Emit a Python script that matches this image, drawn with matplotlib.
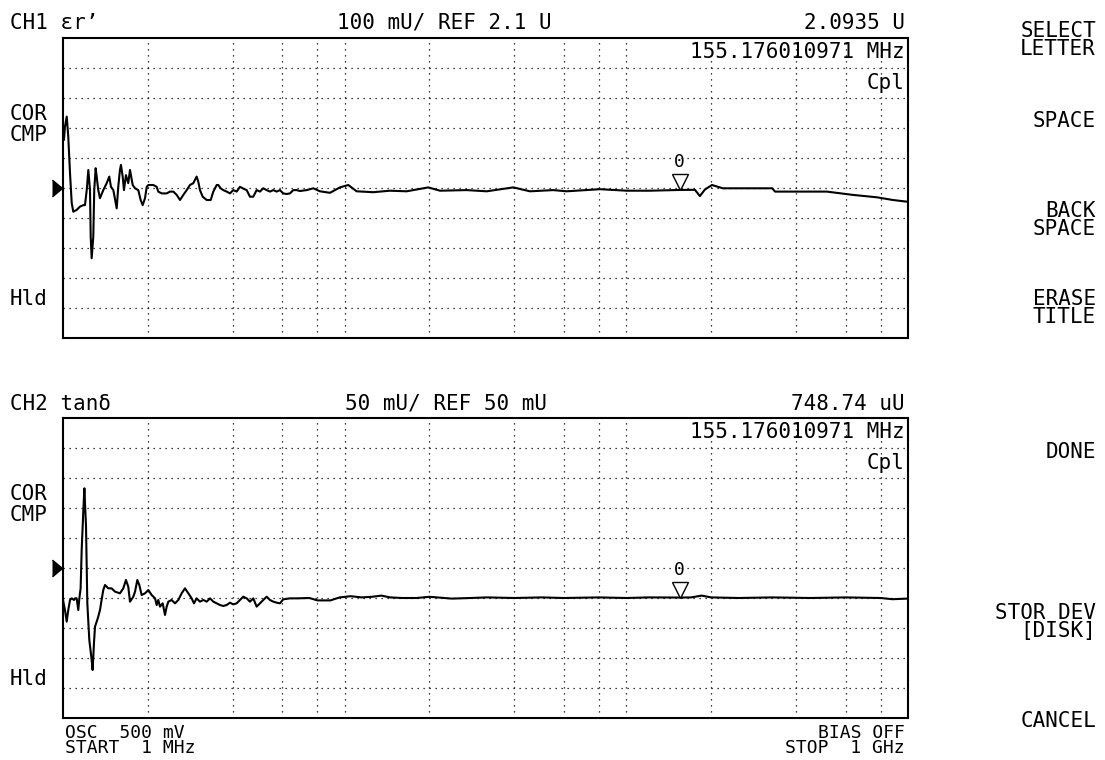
import matplotlib.pyplot as plt
from matplotlib import transforms
from matplotlib.ticker import NullLocator

# sweep 1 MHz .. 1 GHz, log
ch1_freq = [1.0, 1.008, 1.016, 1.031, 1.044, 1.059, 1.074, 1.088, 1.118, 1.149,
            1.181, 1.197, 1.214, 1.230, 1.247, 1.254, 1.264, 1.281, 1.291, 1.306,
            1.317, 1.334, 1.353, 1.390, 1.429, 1.460, 1.480, 1.509, 1.551, 1.571,
            1.593, 1.606, 1.629, 1.646, 1.673, 1.705, 1.729, 1.768, 1.802, 1.850,
            1.887, 1.918, 1.955, 1.983, 2.009, 2.092, 2.151, 2.179, 2.240, 2.334,
            2.398, 2.464, 2.533, 2.602, 2.674, 2.749, 2.823, 2.901, 2.982, 3.022,
            3.064, 3.133, 3.237, 3.345, 3.417, 3.513, 3.559, 3.629, 3.707, 3.812,
            3.916, 4.022, 4.136, 4.249, 4.344, 4.488, 4.611, 4.737, 4.870, 5.003,
            5.140, 5.285, 5.430, 5.579, 5.737, 5.893, 6.053, 6.224, 6.394, 6.568,
            6.754, 6.939, 7.33, 7.74, 8.17, 8.87, 9.62, 10.30, 11.03, 12.63,
            14.48, 16.60, 19.81, 21.80, 27.11, 31.92, 39.68, 45.49, 55.03, 61.39,
            80.60, 100.3, 121.3, 155.18, 175.2, 182.5, 190.1, 201.4, 220, 330,
            337, 515, 637.6, 775.5, 884, 1000]
ch1_val = [2.27, 2.26, 2.304, 2.338, 2.271, 2.149, 2.049, 2.021, 2.027, 2.038,
           2.043, 2.043, 2.093, 2.16, 2.093, 1.938, 1.866, 1.938, 2.093, 2.166,
           2.138, 2.093, 2.066, 2.093, 2.116, 2.138, 2.104, 2.093, 2.032, 2.104,
           2.16, 2.177, 2.138, 2.093, 2.143, 2.116, 2.16, 2.11, 2.099, 2.093,
           2.06, 2.043, 2.066, 2.104, 2.11, 2.11, 2.104, 2.088, 2.082, 2.082,
           2.088, 2.088, 2.077, 2.06, 2.077, 2.093, 2.11, 2.116, 2.138, 2.121,
           2.093, 2.071, 2.06, 2.06, 2.088, 2.11, 2.11, 2.099, 2.093, 2.088,
           2.082, 2.093, 2.088, 2.104, 2.099, 2.093, 2.071, 2.071, 2.093, 2.088,
           2.099, 2.093, 2.088, 2.093, 2.088, 2.093, 2.082, 2.080, 2.082, 2.093,
           2.093, 2.090, 2.093, 2.099, 2.089, 2.084, 2.102, 2.11, 2.089, 2.086,
           2.091, 2.089, 2.102, 2.091, 2.093, 2.089, 2.102, 2.089, 2.093, 2.089,
           2.096, 2.091, 2.091, 2.0935, 2.094, 2.073, 2.095, 2.11, 2.099, 2.099,
           2.088, 2.088, 2.077, 2.069, 2.06, 2.054]

ch2_freq = [1.0, 1.016, 1.031, 1.044, 1.059, 1.074, 1.094, 1.103, 1.118, 1.133,
            1.143, 1.155, 1.165, 1.181, 1.191, 1.200, 1.207, 1.220, 1.240, 1.264,
            1.274, 1.288, 1.299, 1.317, 1.334, 1.353, 1.371, 1.390, 1.410, 1.429,
            1.448, 1.488, 1.530, 1.593, 1.637, 1.673, 1.705, 1.729, 1.777, 1.802,
            1.836, 1.866, 1.902, 1.955, 2.009, 2.064, 2.122, 2.151, 2.179, 2.210,
            2.259, 2.302, 2.334, 2.366, 2.431, 2.498, 2.567, 2.638, 2.710, 2.786,
            2.863, 2.917, 2.982, 3.064, 3.149, 3.237, 3.326, 3.417, 3.513, 3.609,
            3.707, 3.812, 3.916, 4.022, 4.136, 4.249, 4.366, 4.488, 4.611, 4.737,
            4.870, 5.003, 5.140, 5.285, 5.430, 5.579, 5.737, 5.893, 6.053, 6.394,
            6.754, 7.5, 8.0, 8.9, 9.6, 10.5, 11.5, 12.5, 13.5, 14.5,
            16, 18, 20, 24, 28, 32, 40, 50, 60, 80,
            100, 120, 155.18, 170, 185, 200, 250, 330, 450, 600,
            800, 880, 1000]
ch2_val = [-0.003, -0.02, -0.0394, -0.02, -0.0033, -0.0006, -0.0033, -0.0006, -0.0006, -0.02,
           -0.0006, 0.0161, 0.08, 0.1467, 0.1828, 0.1467, 0.1189, -0.0089, -0.07, -0.1033,
           -0.12, -0.0756, -0.0478, -0.0394, -0.0311, -0.02, -0.0033, 0.0133, 0.0217, 0.0189,
           0.0161, 0.0161, 0.0106, 0.0078, 0.0161, 0.03, 0.0189, -0.0061, 0.0022, 0.0106,
           0.03, 0.0217, 0.005, 0.0078, 0.0133, 0.005, -0.0006, -0.0117, -0.0033, -0.0144,
           -0.0089, -0.0283, -0.0144, -0.0061, -0.0033, -0.0089, -0.0033, 0.0078, 0.0161, 0.0078,
           -0.0006, -0.0089, -0.0006, -0.0061, -0.0033, -0.0061, -0.0006, -0.0061, -0.0089, -0.0117,
           -0.0133, -0.0117, -0.0078, -0.0106, -0.0089, -0.0033, 0.0022, -0.0006, -0.0061, -0.0006,
           -0.0144, -0.0089, -0.0033, 0.0022, -0.0033, -0.0061, -0.0078, -0.0089, -0.0022, -0.0006,
           -0.0006, 0.0, -0.004, -0.004, 0.001, 0.003, 0.001, 0.002, 0.004, 0.001,
           0.0, 0.0, 0.002, -0.001, 0.0, 0.001, 0.0, 0.001, 0.0, 0.001,
           0.0, 0.001, 0.00075, 0.001, 0.004, 0.001, 0.0, 0.001, 0.0, 0.001,
           0.0, -0.002, -0.001]

marker_freq = 155.18
ch1_ref, ch1_div = 2.1, 0.1
ch2_ref, ch2_div = 0.05, 0.05
grid_freqs = [2, 4, 6, 8, 10, 20, 40, 60, 80, 100, 200, 400, 600, 800]

softkeys = [("SELECT\nLETTER", 29), ("SPACE", 119), ("BACK\nSPACE", 209),
            ("ERASE\nTITLE", 297), ("DONE", 450), ("STOR DEV\n[DISK]", 611),
            ("CANCEL", 719)]

plt.rcParams["font.family"] = ["DejaVu Sans Mono", "DejaVu Sans"]

W, H = 1105, 760
fig = plt.figure(figsize=(W / 100, H / 100), dpi=100)


def put(x, y, s, ha="left", size=15, step=18):
    # y is the middle of the capitals of the first line, pixels from the top
    em = size * 100 / 72
    top = y - 0.3955 * em
    fig.text(x / W, 1 - top / H, s, ha=ha, va="top", multialignment=ha,
             fontsize=size, color="black", linespacing=step / (0.97 * em))


def make_panel(top, freq, val, ref, div):
    ax = fig.add_axes([63 / W, 1 - (top + 300) / H, 845 / W, 300 / H])
    ax.set_xscale("log")
    ax.set_xlim(1, 1000)
    ax.set_ylim(ref - 5 * div, ref + 5 * div)
    ax.set_xticks(grid_freqs)
    ax.set_yticks([ref + k * div for k in range(-4, 5)])
    ax.xaxis.set_minor_locator(NullLocator())
    ax.tick_params(length=0, labelbottom=False, labelleft=False)
    ax.grid(True, color="black", lw=0.9, ls=(0, (1, 3.8)))
    for sp in ax.spines.values():
        sp.set_linewidth(1.5)
    ax.plot(freq, val, color="black", lw=1.5)

    # reference position arrow on the left
    blend = transforms.blended_transform_factory(ax.transAxes, ax.transData)
    ax.plot([-0.0071], [ref], marker=[(-0.6, -1), (0.6, 0), (-0.6, 1)], ms=12,
            color="black", transform=blend, clip_on=False)

    # marker 0
    mv = val[freq.index(marker_freq)]
    up = transforms.offset_copy(ax.transData, fig=fig, y=8, units="dots")
    ax.plot([marker_freq], [mv], marker="v", ms=12, mfc="white", mec="black",
            mew=1.0, transform=up, clip_on=False)
    ax.annotate("0", (marker_freq, mv), xytext=(-1, 28), textcoords="offset pixels",
                ha="center", va="center", fontsize=13)
    return ax


ax1 = make_panel(38, ch1_freq, ch1_val, ch1_ref, ch1_div)
ax2 = make_panel(418, ch2_freq, ch2_val, ch2_ref, ch2_div)

put(10, 21, "CH1 εr’")
put(444, 21, "100 mU/ REF 2.1 U", ha="center")
put(905, 21, "2.0935 U", ha="right")
put(905, 50, "155.176010971 MHz", ha="right")
put(905, 81, "Cpl", ha="right")
put(10, 112, "COR\nCMP", step=22)
put(10, 297, "Hld")

put(10, 402, "CH2 tanδ")
put(446, 402, "50 mU/ REF 50 mU", ha="center")
put(905, 402, "748.74 uU", ha="right")
put(905, 430, "155.176010971 MHz", ha="right")
put(905, 461, "Cpl", ha="right")
put(10, 492, "COR\nCMP", step=22)
put(10, 677, "Hld")

put(65, 731, "OSC  500 mV\nSTART  1 MHz", size=13, step=14)
put(905, 731, "BIAS OFF\nSTOP  1 GHz", ha="right", size=13, step=14)

for label, y in softkeys:
    put(1096, y, label, ha="right")

fig.savefig("out.png", dpi=100, facecolor="white")
